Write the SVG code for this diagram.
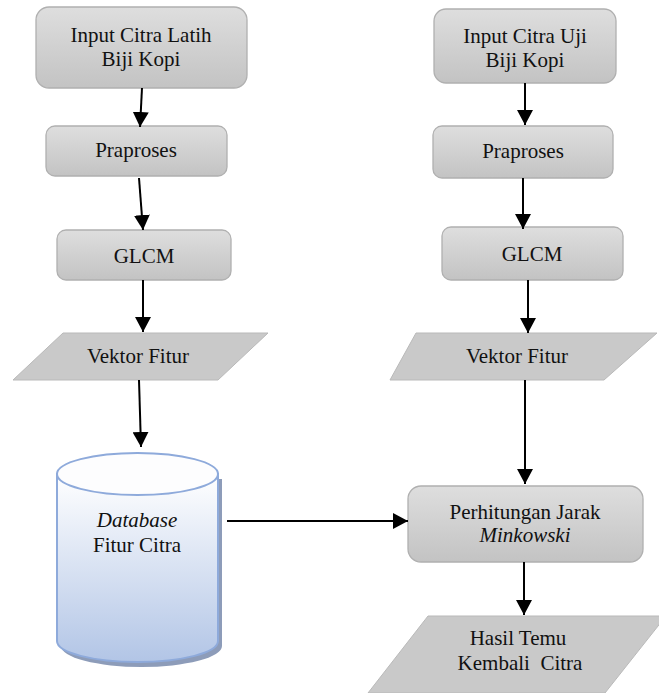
<svg xmlns="http://www.w3.org/2000/svg" width="659" height="693" viewBox="0 0 659 693">
<defs>
<linearGradient id="gbox" x1="0" y1="0" x2="0" y2="1">
<stop offset="0" stop-color="#dedede"/>
<stop offset="1" stop-color="#c3c3c3"/>
</linearGradient>
<linearGradient id="gcyl" x1="0" y1="0" x2="0" y2="1">
<stop offset="0" stop-color="#ffffff"/>
<stop offset="1" stop-color="#b2c5e6"/>
</linearGradient>
<marker id="ah" markerUnits="userSpaceOnUse" markerWidth="16" markerHeight="16" refX="15" refY="8" orient="auto">
<path d="M0,0 L15,8 L0,16 z" fill="#000"/>
</marker>
</defs>
<style>
.box{fill:url(#gbox);stroke:#b0b0b0;stroke-width:1.3}
.para{fill:#c9c9c9;stroke:#b9b9b9;stroke-width:1}
text{font-family:'Liberation Serif','Times New Roman','DejaVu Serif',serif;font-size:21px;fill:#111;text-anchor:middle}
.i{font-style:italic}
.c{stroke:#000;stroke-width:2;fill:none;marker-end:url(#ah)}
</style>
<rect width="659" height="693" fill="#fff"/>
<g id="n-input-latih">
<rect class="box" x="36" y="7" width="211" height="81" rx="13"/>
<text x="141" y="42" font-family="Liberation Serif, serif">Input Citra Latih</text>
<text x="141" y="66" font-family="Liberation Serif, serif">Biji Kopi</text>
</g>
<g id="n-praproses-l">
<rect class="box" x="46" y="126" width="181" height="50" rx="9"/>
<text x="136" y="157" font-family="Liberation Serif, serif">Praproses</text>
</g>
<g id="n-glcm-l">
<rect class="box" x="57" y="230" width="174" height="50" rx="9"/>
<text x="144" y="263" font-family="Liberation Serif, serif">GLCM</text>
</g>
<g id="n-vektor-l">
<polygon class="para" points="63,333 268,333 218,380 13,380"/>
<text x="138" y="363" font-family="Liberation Serif, serif">Vektor Fitur</text>
</g>
<g id="n-database">
<path d="M61,479 L61,646 A80.5,21 0 0 0 222,646 L222,479 Z" fill="#8d9cb9"/>
<path d="M57,474 L57,641 A80.5,21 0 0 0 218,641 L218,474 Z" fill="url(#gcyl)" stroke="#8eaadb" stroke-width="2"/>
<ellipse cx="137.5" cy="474" rx="80.5" ry="21" fill="#fdfdfe" stroke="#8eaadb" stroke-width="2"/>
<text class="i" x="137" y="527" font-family="Liberation Serif, serif">Database</text>
<text x="137" y="552" font-family="Liberation Serif, serif">Fitur Citra</text>
</g>
<g id="n-input-uji">
<rect class="box" x="434" y="9" width="182" height="74" rx="12"/>
<text x="525" y="43" font-family="Liberation Serif, serif">Input Citra Uji</text>
<text x="525" y="67" font-family="Liberation Serif, serif">Biji Kopi</text>
</g>
<g id="n-praproses-r">
<rect class="box" x="433" y="126" width="180" height="52" rx="9"/>
<text x="523" y="158" font-family="Liberation Serif, serif">Praproses</text>
</g>
<g id="n-glcm-r">
<rect class="box" x="442" y="227" width="181" height="53" rx="9"/>
<text x="532" y="261" font-family="Liberation Serif, serif">GLCM</text>
</g>
<g id="n-vektor-r">
<polygon class="para" points="416,333 657,333 604,380 390,380"/>
<text x="517" y="363" font-family="Liberation Serif, serif">Vektor Fitur</text>
</g>
<g id="n-minkowski">
<rect class="box" x="408" y="486" width="235" height="76" rx="13"/>
<text x="525" y="519" font-family="Liberation Serif, serif">Perhitungan Jarak</text>
<text class="i" x="525" y="542" font-family="Liberation Serif, serif">Minkowski</text>
</g>
<g id="n-hasil">
<polygon class="para" points="428,616 666,616 605,693 368,693"/>
<text x="518" y="645" font-family="Liberation Serif, serif">Hasil Temu</text>
<text x="520" y="670" font-family="Liberation Serif, serif" xml:space="preserve">Kembali  Citra</text>
</g>
<g id="connectors">
<line class="c" x1="142" y1="88" x2="140" y2="127"/>
<line class="c" x1="139" y1="178" x2="143" y2="230"/>
<line class="c" x1="143" y1="280" x2="143" y2="332"/>
<line class="c" x1="139" y1="380" x2="141" y2="447"/>
<line class="c" x1="227" y1="521" x2="408" y2="521"/>
<line class="c" x1="525" y1="83" x2="525" y2="125"/>
<line class="c" x1="523" y1="178" x2="523" y2="229"/>
<line class="c" x1="528" y1="280" x2="528" y2="333"/>
<line class="c" x1="525" y1="380" x2="525" y2="484"/>
<line class="c" x1="524" y1="562" x2="524" y2="615"/>
</g>
</svg>
